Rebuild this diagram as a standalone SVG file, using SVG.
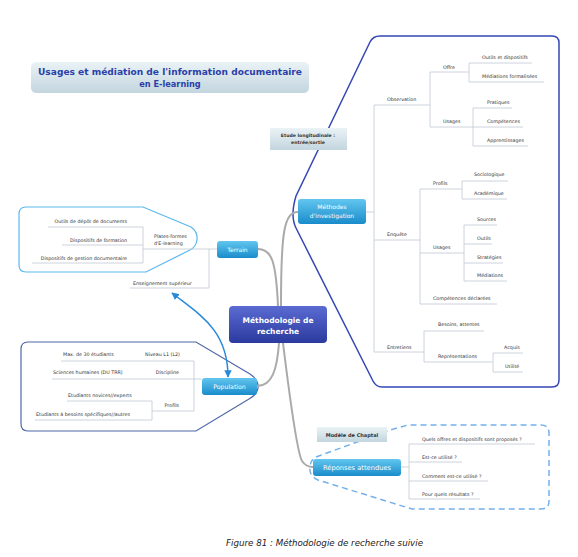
<svg xmlns="http://www.w3.org/2000/svg" width="578" height="557" viewBox="0 0 578 557">
<defs>
<linearGradient id="gBlue" x1="0" y1="0" x2="0" y2="1"><stop offset="0" stop-color="#62c6ef"/><stop offset="1" stop-color="#1a8ccb"/></linearGradient>
<linearGradient id="gCentral" x1="0" y1="0" x2="0" y2="1"><stop offset="0" stop-color="#5a6bd2"/><stop offset="1" stop-color="#2b3a9e"/></linearGradient>
<linearGradient id="gGray" x1="0" y1="0" x2="0" y2="1"><stop offset="0" stop-color="#eaf3f6"/><stop offset="1" stop-color="#c3d5de"/></linearGradient>
<marker id="ah" viewBox="0 0 10 10" refX="9" refY="5" markerWidth="5" markerHeight="5" orient="auto-start-reverse"><path d="M0,0 L10,5 L0,10 z" fill="#2a8ad8"/></marker>
</defs>
<style>
.t{font-family:"DejaVu Sans",Verdana,sans-serif;font-size:4.8px;fill:#333}
.e{text-anchor:end}
.ln{fill:none;stroke:#c6cdd8;stroke-width:0.9}
.br{fill:none;stroke:#aaaaaa;stroke-width:2}
.nt{font-family:"DejaVu Sans",Verdana,sans-serif;fill:#fff;text-anchor:middle}
.bt{font-family:"DejaVu Sans",Verdana,sans-serif;font-weight:bold;fill:#333;text-anchor:middle}
</style>
<rect width="578" height="557" fill="#fff"/>

<g id="boundaries">
<path d="M370,42 Q373,36 380,36 L552,36 Q559,36 559,43 L559,380 Q559,387 552,387 L382,387 Q376,387 373,381 L296,228 Q290,216 296,196 Z" fill="none" stroke="#3447b5" stroke-width="1.5"/>
<path d="M26,207 L143,207 L191,227 Q198,232 197,240 Q196,247 190,250 L146,272 L26,272 Q19,272 19,265 L19,214 Q19,207 26,207 Z" fill="none" stroke="#5ab8ee" stroke-width="1.2"/>
<path d="M28,342 L196,342 L250,374 Q259,380 258,388 Q257,395 249,399 L196,431 L28,431 Q21,431 21,424 L21,349 Q21,342 28,342 Z" fill="none" stroke="#4f67a8" stroke-width="1.2"/>
<path d="M316,457 L390,430 L408,425 L541,425 Q549,425 549,433 L549,501 Q549,509 541,509 L412,509 L318,480 Q309,476 310,468 Q310,460 316,457 Z" fill="none" stroke="#74b0ea" stroke-width="1.5" stroke-dasharray="6,4"/>
</g>

<g id="connectors">
<path class="br" d="M258,249 C272,249 276,262 278,306"/>
<path class="br" d="M298,212 C284,212 281,232 281,306"/>
<path class="br" d="M257,386 C272,386 277,370 279,343"/>
<path class="br" d="M283,343 C290,400 297,452 302,461 Q306,467 313,467"/>
<!-- Methodes tree -->
<path class="ln" d="M366,212 L374,212 M374,105 L374,352 M374,105 L430,105 M430,72 L430,127 M430,72 L469,72 M430,127 L473,127 M469,63 L469,82 M469,63 L532,63 M469,82 L544,82 M473,108 L473,146 M473,108 L512,108 M473,127 L523,127 M473,146 L528,146"/>
<path class="ln" d="M374,240 L420,240 M420,189 L420,304 M420,189 L462,189 M462,181 L462,199 M462,181 L508,181 M462,199 L507,199 M420,253 L464,253 M464,225 L464,281 M464,225 L497,225 M464,244 L492,244 M464,263 L503,263 M464,281 L507,281 M420,304 L497,304"/>
<path class="ln" d="M374,352 L424,352 M424,331 L424,362 M424,331 L484,331 M424,362 L493,362 M493,353 L493,372 M493,353 L523,353 M493,372 L523,372"/>
<!-- Terrain tree -->
<path class="ln" d="M217,249 L143,249 M209,249 L209,288 M209,288 L130,288 M143,227 L143,263 M143,227 L48,227 M143,245 L62,245 M143,263 L32,263"/>
<!-- Population tree -->
<path class="ln" d="M202,379 L194,379 M194,361 L194,411 M194,361 L61,361 M194,379 L52,379 M194,411 L152,411 M152,401 L152,420 M152,401 L67,401 M152,420 L35,420"/>
<!-- Reponses tree -->
<path class="ln" d="M401,467 L409,467 M409,444 L409,499 M409,444 L535,444 M409,462 L462,462 M409,481 L488,481 M409,499 L480,499"/>
<path d="M172,293 C200,315 228,330 228,377" fill="none" stroke="#2a8ad8" stroke-width="1.5" marker-start="url(#ah)" marker-end="url(#ah)"/>
</g>

<g id="title">
<rect x="31" y="62" width="278" height="31" rx="5" fill="url(#gGray)"/>
<text x="170" y="75" font-family="DejaVu Sans,Verdana,sans-serif" font-weight="bold" font-size="8.2" fill="#2a3fa8" text-anchor="middle" textLength="264" lengthAdjust="spacingAndGlyphs">Usages et médiation de l'information documentaire</text>
<text x="170" y="87" font-family="DejaVu Sans,Verdana,sans-serif" font-weight="bold" font-size="8.2" fill="#2a3fa8" text-anchor="middle">en E-learning</text>
</g>

<g id="central">
<rect x="229" y="306" width="98" height="37" rx="4" fill="url(#gCentral)"/>
<text class="nt" x="278" y="323" font-size="7.5" font-weight="bold" fill="#e8ecff">Méthodologie de</text>
<text class="nt" x="278" y="334" font-size="7.5" font-weight="bold" fill="#e8ecff">recherche</text>
</g>

<g id="methodes">
<rect x="298" y="199" width="68" height="25" rx="3" fill="url(#gBlue)"/>
<text class="nt" x="332" y="209" font-size="6">Méthodes</text>
<text class="nt" x="332" y="218" font-size="6">d'investigation</text>
</g>

<g id="etude">
<rect x="270" y="128" width="77" height="22" fill="url(#gGray)"/>
<text class="bt" x="308" y="137" font-size="4.6">Etude longitudinale :</text>
<text class="bt" x="308" y="144" font-size="4.6">entrée/sortie</text>
</g>

<g id="terrain">
<rect x="217" y="241" width="41" height="17" rx="3" fill="url(#gBlue)"/>
<text class="nt" x="237.5" y="252" font-size="6">Terrain</text>
</g>

<g id="population">
<rect x="202" y="378" width="55" height="17" rx="3" fill="url(#gBlue)"/>
<text class="nt" x="229.5" y="389" font-size="6.2">Population</text>
</g>

<g id="reponses">
<rect x="313" y="459" width="88" height="17" rx="3" fill="url(#gBlue)"/>
<text class="nt" x="357" y="470" font-size="6.7">Réponses attendues</text>
</g>

<g id="chaptal">
<rect x="317" y="427" width="70" height="15" fill="url(#gGray)"/>
<text class="bt" x="352" y="437" font-size="5">Modèle de Chaptal</text>
</g>

<g id="methodes-items">
<text class="t" x="387" y="101">Observation</text>
<text class="t" x="443" y="69">Offre</text>
<text class="t" x="443" y="123">Usages</text>
<text class="t" x="482" y="59">Outils et dispositifs</text>
<text class="t" x="482" y="78">Médiations formalisées</text>
<text class="t" x="487" y="104">Pratiques</text>
<text class="t" x="487" y="123">Compétences</text>
<text class="t" x="487" y="142">Apprentissages</text>
<text class="t" x="387" y="236">Enquête</text>
<text class="t" x="433" y="185">Profils</text>
<text class="t" x="474" y="176">Sociologique</text>
<text class="t" x="474" y="195">Académique</text>
<text class="t" x="433" y="249">Usages</text>
<text class="t" x="477" y="221">Sources</text>
<text class="t" x="477" y="240">Outils</text>
<text class="t" x="477" y="259">Stratégies</text>
<text class="t" x="477" y="277">Médiations</text>
<text class="t" x="433" y="300">Compétences déclarées</text>
<text class="t" x="387" y="349">Entretiens</text>
<text class="t" x="438" y="326">Besoins, attentes</text>
<text class="t" x="438" y="358">Représentations</text>
<text class="t" x="504" y="349">Acquis</text>
<text class="t" x="505" y="368">Utilité</text>
</g>

<g id="terrain-items">
<text class="t e" x="127" y="223">Outils de dépôt de documents</text>
<text class="t e" x="127" y="242">Dispositifs de formation</text>
<text class="t e" x="127" y="260">Dispositifs de gestion documentaire</text>
<text class="t" x="154" y="238">Plates-formes</text>
<text class="t" x="154" y="245">d'E-learning</text>
<text class="t" x="133" y="285">Enseignement supérieur</text>
</g>

<g id="population-items">
<text class="t" x="63" y="356">Max. de 30 étudiants</text>
<text class="t e" x="180" y="356">Niveau L1 (L2)</text>
<text class="t" x="53" y="374">Sciences humaines (DU TRR)</text>
<text class="t e" x="179" y="374">Discipline</text>
<text class="t e" x="179" y="407">Profils</text>
<text class="t" x="68" y="397">Etudiants novices//experts</text>
<text class="t" x="36" y="416">Etudiants à besoins spécifiques//autres</text>
</g>

<g id="reponses-items">
<text class="t" x="422" y="441">Quels offres et dispositifs sont proposés ?</text>
<text class="t" x="422" y="459">Est-ce utilisé ?</text>
<text class="t" x="422" y="478">Comment est-ce utilisé ?</text>
<text class="t" x="422" y="496">Pour quels résultats ?</text>
</g>

<text x="226" y="546" font-family="DejaVu Sans,Verdana,sans-serif" font-style="italic" font-size="9.5" fill="#222" textLength="197" lengthAdjust="spacingAndGlyphs">Figure 81 : Méthodologie de recherche suivie</text>
</svg>
